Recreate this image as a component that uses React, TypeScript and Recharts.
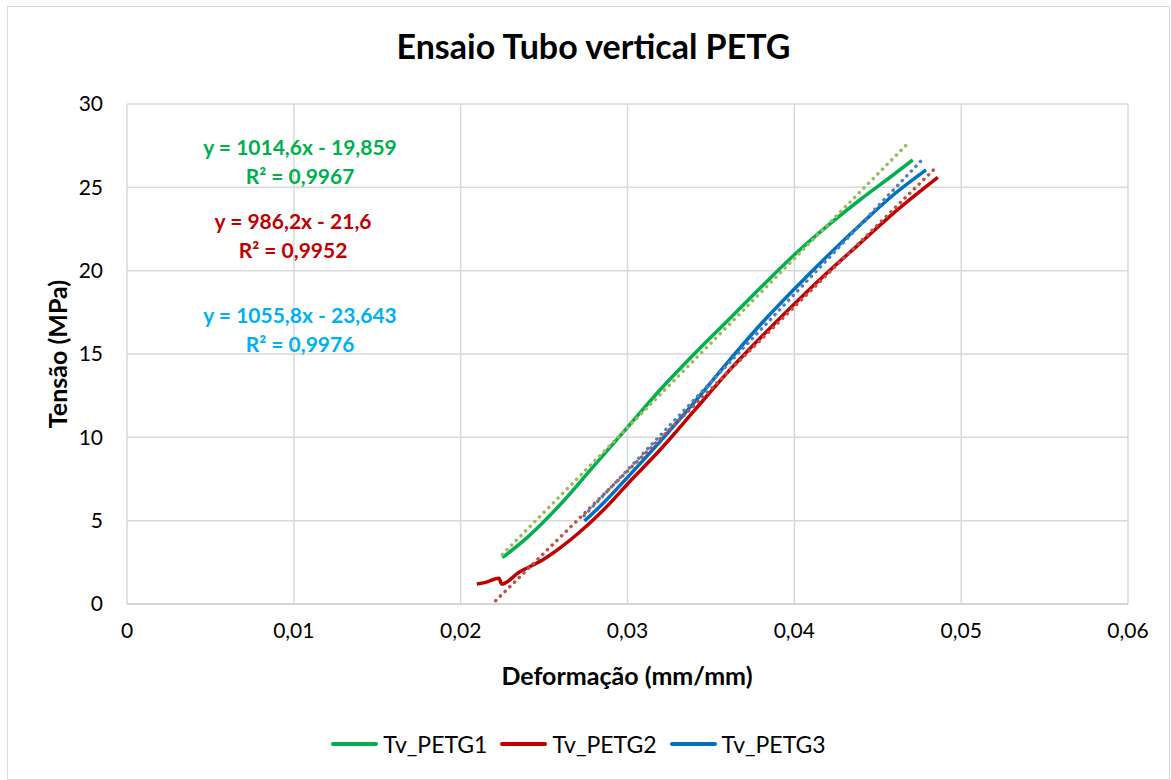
import React from 'react';
import { LineChart, Line, XAxis, YAxis, CartesianGrid } from 'recharts';

// curves (deformação mm/mm, tensão MPa)
const petg1 = [
  { x: 0.0225, y: 2.78 }, { x: 0.024, y: 4.0 }, { x: 0.026, y: 6.0 }, { x: 0.028, y: 8.3 },
  { x: 0.03, y: 10.6 }, { x: 0.032, y: 12.9 }, { x: 0.034, y: 15.0 }, { x: 0.036, y: 17.0 },
  { x: 0.038, y: 19.0 }, { x: 0.04, y: 20.95 }, { x: 0.042, y: 22.7 }, { x: 0.044, y: 24.3 },
  { x: 0.046, y: 25.8 }, { x: 0.0471, y: 26.65 },
];
const petg2 = [
  { x: 0.02097, y: 1.2 }, { x: 0.0215, y: 1.3 }, { x: 0.0223, y: 1.55 }, { x: 0.02245, y: 1.2 },
  { x: 0.0235, y: 1.9 }, { x: 0.025, y: 2.7 }, { x: 0.026, y: 3.4 }, { x: 0.027, y: 4.2 },
  { x: 0.028, y: 5.1 }, { x: 0.029, y: 6.1 }, { x: 0.03, y: 7.2 }, { x: 0.032, y: 9.3 },
  { x: 0.034, y: 11.6 }, { x: 0.036, y: 13.9 }, { x: 0.038, y: 16.0 }, { x: 0.04, y: 18.0 },
  { x: 0.042, y: 19.9 }, { x: 0.044, y: 21.7 }, { x: 0.046, y: 23.5 }, { x: 0.0486, y: 25.6 },
];
const petg3 = [
  { x: 0.02742, y: 4.98 }, { x: 0.0285, y: 6.0 }, { x: 0.03, y: 7.6 }, { x: 0.032, y: 9.8 },
  { x: 0.034, y: 12.1 }, { x: 0.036, y: 14.5 }, { x: 0.038, y: 16.8 }, { x: 0.04, y: 18.9 },
  { x: 0.042, y: 20.9 }, { x: 0.044, y: 22.8 }, { x: 0.046, y: 24.6 }, { x: 0.0479, y: 26.05 },
];

// linear trendline endpoints
const trend1 = [{ x: 0.0225, y: 2.97 }, { x: 0.0469, y: 27.73 }];
const trend2 = [{ x: 0.0221, y: 0.2 }, { x: 0.0486, y: 26.3 }];
const trend3 = [{ x: 0.0274, y: 5.3 }, { x: 0.0477, y: 26.7 }];

const xTicks = [0, 0.01, 0.02, 0.03, 0.04, 0.05, 0.06];
const yTicks = [0, 5, 10, 15, 20, 25, 30];

const series = [
  { name: 'Tv_PETG1', data: petg1, color: '#00b050', trend: trend1, trendColor: '#9bbb59' },
  { name: 'Tv_PETG2', data: petg2, color: '#c00000', trend: trend2, trendColor: '#c0504d' },
  { name: 'Tv_PETG3', data: petg3, color: '#0070c0', trend: trend3, trendColor: '#4f81bd' },
];

const equations = [
  { eq: 'y = 1014,6x - 19,859', r2: 'R² = 0,9967', color: '#00b050', top: 132, left: 300 },
  { eq: 'y = 986,2x - 21,6', r2: 'R² = 0,9952', color: '#c00000', top: 206, left: 293 },
  { eq: 'y = 1055,8x - 23,643', r2: 'R² = 0,9976', color: '#00b0f0', top: 300, left: 300 },
];

const font = 'Lato, "Open Sans", sans-serif';
const fmt = (v: number) => String(v).replace('.', ',');

const YLabel = () => (
  <text x={57} y={354} transform="rotate(-90 57 354)" textAnchor="middle" dominantBaseline="central"
    fontFamily={font} fontWeight={700} fontSize={25} fill="#000">
    Tensão (MPa)
  </text>
);

const XLabel = () => (
  <text x={627} y={675} textAnchor="middle" dominantBaseline="central"
    fontFamily={font} fontWeight={700} fontSize={25} fill="#000">
    Deformação (mm/mm)
  </text>
);

export default function App() {
  return (
    <div style={{ position: 'absolute', left: 0, top: 0, width: 1171, height: 780, background: '#fff', fontFamily: font }}>
      <div style={{ position: 'absolute', left: 7, top: 6, right: 1, bottom: 0, border: '1px solid #d9d9d9' }} />
      <div style={{ position: 'absolute', top: 25, left: 0, width: 1187, textAlign: 'center', fontSize: 34, fontWeight: 700 }}>
        Ensaio Tubo vertical PETG
      </div>
      <LineChart width={1171} height={780} margin={{ top: 104, right: 43, left: 67, bottom: 104 }}
        style={{ position: 'absolute', left: 0, top: 0 }}>
        <CartesianGrid stroke="#d9d9d9" strokeWidth={1.5} />
        <XAxis dataKey="x" type="number" domain={[0, 0.06]} ticks={xTicks} tickFormatter={fmt}
          height={72} tickLine={false} axisLine={{ stroke: '#d0d0d0', strokeWidth: 1.5 }}
          tick={{ fontSize: 21, fill: '#000', fontFamily: font }} tickMargin={13} label={<XLabel />} />
        <YAxis dataKey="y" type="number" domain={[0, 30]} ticks={yTicks} tickFormatter={fmt}
          width={60} tickLine={false} axisLine={false}
          tick={{ fontSize: 21, fill: '#000', fontFamily: font }} tickMargin={18} label={<YLabel />} />
        {series.map((s) => (
          <Line key={s.name} data={s.data} dataKey="y" name={s.name} type="monotone" stroke={s.color}
            strokeWidth={3.5} dot={false} isAnimationActive={false} />
        ))}
        {series.map((s) => (
          <Line key={s.name + '-trend'} data={s.trend} dataKey="y" type="linear" stroke={s.trendColor}
            strokeWidth={3.5} strokeDasharray="0.1 6.5" strokeLinecap="round" dot={false}
            isAnimationActive={false} legendType="none" />
        ))}
      </LineChart>
      {equations.map((e) => (
        <div key={e.eq} style={{ position: 'absolute', top: e.top, left: e.left - 150, width: 300, textAlign: 'center',
          color: e.color, fontWeight: 700, fontSize: 21, lineHeight: '29px' }}>
          <div>{e.eq}</div>
          <div>{e.r2}</div>
        </div>
      ))}
      <div style={{ position: 'absolute', top: 730, left: 0, width: 1157, display: 'flex', justifyContent: 'center', fontSize: 23 }}>
        {series.map((s, i) => (
          <div key={s.name} style={{ display: 'flex', alignItems: 'center', marginLeft: i === 0 ? 0 : 13 }}>
            <span style={{ display: 'inline-block', width: 47, height: 4, borderRadius: 2, background: s.color, marginRight: 5 }} />
            <span>{s.name}</span>
          </div>
        ))}
      </div>
    </div>
  );
}
